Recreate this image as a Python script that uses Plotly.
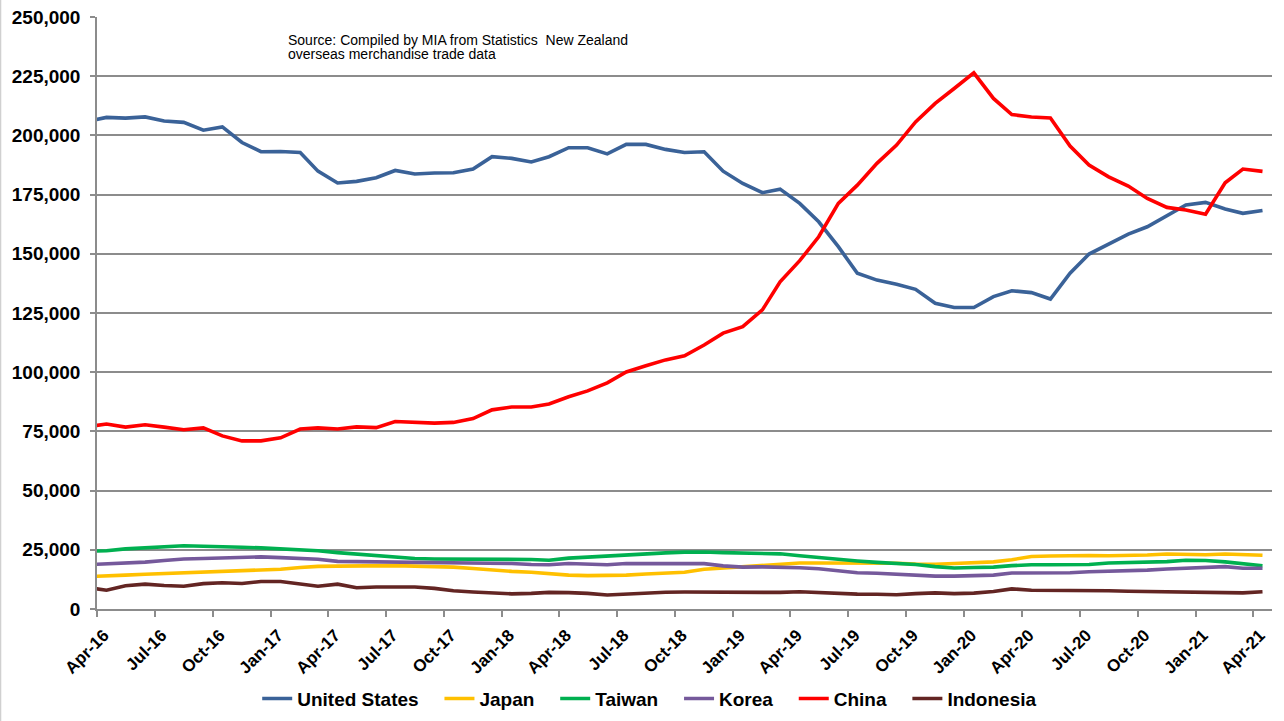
import pandas as pd
import plotly.graph_objects as go

# Monthly points, plotted mid-month (Mar-16 .. Apr-21); the axis opens at 1 Apr 2016
months = pd.date_range("2016-03-01", "2021-04-01", freq="MS") + pd.Timedelta(days=15)

united_states = [
    205900, 207600, 207300, 207800, 206100, 205500, 202200, 203600, 197000, 193100,
    193200, 192800, 184900, 179900, 180600, 182100, 185200, 183700, 184100, 184200,
    185800, 191000, 190300, 188800, 191000, 194800, 194800, 192200, 196200, 196200,
    194100, 192800, 193100, 184900, 179700, 175800, 177300, 171300, 163500, 153000,
    141800, 138900, 137100, 135000, 129100, 127300, 127300, 131900, 134400, 133600,
    130900, 141800, 149900, 154100, 158300, 161400, 166100, 170600, 171700, 168900,
    167100, 168300,
]
japan = [
    13700, 13900, 14300, 14700, 15000, 15200, 15500, 16000, 16300, 16600,
    16800, 17500, 18000, 18100, 18200, 18300, 18300, 18100, 17900, 17700,
    17100, 16400, 15900, 15500, 14800, 14300, 14100, 14200, 14300, 14800,
    15100, 15500, 16800, 17300, 17700, 18500, 19000, 19400, 19400, 19400,
    19400, 19400, 19300, 19000, 18900, 19200, 19700, 19900, 20800, 22200,
    22400, 22600, 22600, 22500, 22500, 22800, 23200, 23100, 22900, 23200,
    23000, 22700,
]
taiwan = [
    24400, 24600, 25400, 25900, 26300, 26700, 26500, 26400, 26100, 25800,
    25400, 24800, 24600, 23800, 23100, 22400, 21900, 21300, 21100, 21100,
    21100, 21200, 21100, 20900, 20600, 21500, 21900, 22400, 23000, 23500,
    23700, 24000, 24100, 23800, 23700, 23700, 23300, 22500, 21700, 21000,
    20300, 19700, 19200, 18800, 17900, 17300, 17500, 17700, 18300, 18700,
    18700, 18700, 18800, 19400, 19500, 19700, 20000, 20600, 20500, 19900,
    19100, 18300,
]
korea = [
    18700, 19000, 19300, 19800, 20500, 21100, 21300, 21600, 21800, 22000,
    21700, 21400, 21000, 20100, 20000, 20000, 20000, 20000, 19900, 19700,
    19400, 19300, 19200, 18800, 18700, 19200, 18900, 18700, 19200, 19200,
    19150, 19150, 19150, 18200, 17700, 17800, 17700, 17400, 17000, 16300,
    15300, 15100, 14700, 14400, 13900, 13900, 14200, 14300, 15200, 15200,
    15100, 15300, 15700, 15900, 16100, 16400, 16900, 17200, 17400, 17900,
    17200, 17200,
]
china = [
    76900, 78100, 76800, 77800, 76800, 75700, 76500, 73100, 71000, 71000,
    72300, 76000, 76500, 76000, 76900, 76600, 79200, 78800, 78500, 78800,
    80400, 84100, 85300, 85300, 86600, 89600, 92100, 95500, 100100, 102700,
    105200, 106900, 111500, 116500, 119200, 126300, 138200, 147100, 157200, 171300,
    179000, 188200, 195900, 205700, 213500, 219800, 226400, 215600, 208800, 207800,
    207400, 195500, 187500, 182500, 178600, 173400, 169600, 168500, 166700, 180000,
    185800, 184800,
]
indonesia = [
    9100, 7900, 9800, 10500, 9900, 9600, 10700, 11100, 10800, 11600,
    11600, 10600, 9600, 10500, 9000, 9300, 9300, 9300, 8700, 7700,
    7200, 6800, 6400, 6600, 7000, 6900, 6600, 5900, 6300, 6900,
    7100, 7200, 7200, 7200, 7000, 6900, 7000, 7300, 6900, 6500,
    6300, 6200, 6000, 6500, 6800, 6500, 6700, 7400, 8500, 7900,
    7900, 7900, 7900, 7700, 7500, 7400, 7400, 7400, 7300, 7200,
    6800, 7300,
]

series = [
    ("United States", united_states, "#3A6298"),
    ("Japan", japan, "#FFC000"),
    ("Taiwan", taiwan, "#00B050"),
    ("Korea", korea, "#75599B"),
    ("China", china, "#FF0000"),
    ("Indonesia", indonesia, "#632523"),
]

FONT = "Liberation Sans, Arial, sans-serif"
GRID = "#8C8C8C"
PAD = "\u00a0\u00a0\u00a0"  # extra room between legend entries

fig = go.Figure()
for i, (name, values, colour) in enumerate(series):
    label = name + (PAD if i < len(series) - 1 else "")
    fig.add_trace(go.Scatter(
        x=months, y=values, name=label, mode="lines",
        line=dict(color=colour, width=3.6),
    ))

fig.update_layout(
    width=1284, height=721,
    margin=dict(l=97, r=12, t=17, b=112, autoexpand=False),
    paper_bgcolor="white", plot_bgcolor="white",
    font=dict(family=FONT, color="black"),
    showlegend=True,
    legend=dict(
        orientation="h", xref="container", yref="container",
        x=0.506, xanchor="center", y=0.031, yanchor="middle",
        font=dict(family=FONT, size=19, weight="bold", color="black"),
        traceorder="normal", itemwidth=30,
    ),
    xaxis=dict(
        type="date", automargin=False,
        range=["2016-04-01", "2021-05-01"],
        tick0="2016-04-01", dtick="M3", tickformat="%b-%y",
        tickangle=-45, ticklabelshift=7, ticklabelstandoff=2,
        tickfont=dict(family=FONT, size=17, weight="bold", color="black"),
        showgrid=False,
        showline=True, linecolor=GRID, linewidth=1.5,
        ticks="outside", ticklen=6, tickcolor=GRID, tickwidth=1.5,
    ),
    yaxis=dict(
        automargin=False,
        range=[0, 250000], dtick=25000, tickformat=",d",
        tickfont=dict(family=FONT, size=19, weight="bold", color="black"),
        ticklabelstandoff=6,
        showgrid=True, gridcolor=GRID, gridwidth=1.5,
        showline=True, linecolor=GRID, linewidth=1.5,
        ticks="outside", ticklen=5, tickcolor=GRID, tickwidth=1.5,
        zeroline=False,
    ),
)

# Source note inside the plot area
for text, ypos in [("Source: Compiled by MIA from Statistics  New Zealand", 0.9611),
                   ("overseas merchandise trade data", 0.9375)]:
    fig.add_annotation(
        xref="paper", yref="paper", x=0.1609, y=ypos,
        xanchor="left", yanchor="middle", showarrow=False,
        text=text, font=dict(family=FONT, size=14, color="black"),
    )

# Thin chart-frame edge on the left side of the page
fig.add_shape(type="line", xref="paper", yref="paper",
              x0=-0.0821, x1=-0.0821, y0=-0.19, y1=1.03,
              line=dict(color="#D0D0D0", width=1.5))

fig.write_html("out.html")
